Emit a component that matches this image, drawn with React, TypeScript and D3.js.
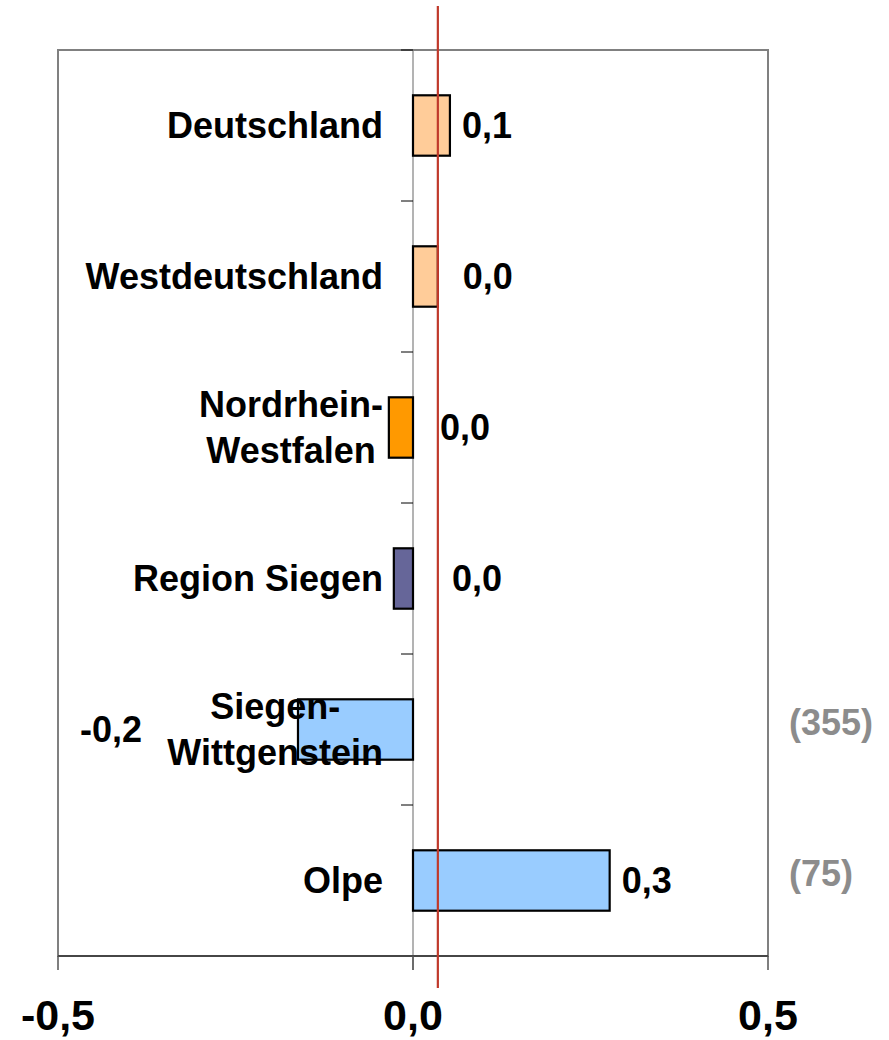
import { useEffect, useRef } from "react"
import * as d3 from "d3"

const categories = ["Deutschland", "Westdeutschland", "Nordrhein-Westfalen", "Region Siegen", "Siegen-Wittgenstein", "Olpe"]
const categoryLines = [["Deutschland"], ["Westdeutschland"], ["Nordrhein-", "Westfalen"], ["Region Siegen"], ["Siegen-", "Wittgenstein"], ["Olpe"]]
const values = [0.052, 0.035, -0.034, -0.027, -0.162, 0.277]
const valueLabels = ["0,1", "0,0", "0,0", "0,0", "-0,2", "0,3"]
const barColors = ["#ffcc99", "#ffcc99", "#ff9900", "#666699", "#99ccff", "#99ccff"]
const counts = ["", "", "", "", "(355)", "(75)"]
const xTicks = [-0.5, 0, 0.5]
const xTickLabels = ["-0,5", "0,0", "0,5"]
const referenceValue = 0.035

// label nudges in px (Excel placed them a bit unevenly)
const labelDx = [12, 25, 27, 39, -156, 12]

const FONT = "'Liberation Sans', Arial, sans-serif"

export default function App() {
  const svgRef = useRef<SVGSVGElement>(null)
  const width = 889
  const height = 1040

  useEffect(() => {
    if (!svgRef.current) return
    const svg = d3.select(svgRef.current)
    svg.selectAll("*").remove()

    const left = 58
    const right = 768
    const top = 50
    const bottom = 956

    const x = d3.scaleLinear().domain([-0.5, 0.5]).range([left, right])
    const y = d3.scaleBand().domain(categories).range([top, bottom]).paddingInner(0.6).paddingOuter(0.3)
    const step = y.step()
    const x0 = x(0)

    // frame
    svg
      .append("rect")
      .attr("x", left)
      .attr("y", top)
      .attr("width", right - left)
      .attr("height", bottom - top)
      .attr("fill", "none")
      .attr("stroke", "#808080")
      .attr("stroke-width", 2)

    // zero axis
    svg.append("line").attr("x1", x0).attr("x2", x0).attr("y1", top).attr("y2", bottom + 14).attr("stroke", "#808080").attr("stroke-width", 1.2)

    // category ticks
    svg
      .selectAll("line.ctick")
      .data(d3.range(categories.length))
      .enter()
      .append("line")
      .attr("x1", x0 - 12)
      .attr("x2", x0)
      .attr("y1", (i) => top + i * step)
      .attr("y2", (i) => top + i * step)
      .attr("stroke", "#000")
      .attr("stroke-width", 1)

    // bottom axis
    svg.append("line").attr("x1", left).attr("x2", right).attr("y1", bottom).attr("y2", bottom).attr("stroke", "#333").attr("stroke-width", 1.5)
    svg
      .selectAll("line.xtick")
      .data(xTicks)
      .enter()
      .append("line")
      .attr("x1", (d) => x(d))
      .attr("x2", (d) => x(d))
      .attr("y1", bottom)
      .attr("y2", bottom + 14)
      .attr("stroke", "#555")
      .attr("stroke-width", 1.5)
    svg
      .selectAll("text.xlabel")
      .data(xTicks)
      .enter()
      .append("text")
      .attr("x", (d) => x(d))
      .attr("y", 1030)
      .attr("text-anchor", "middle")
      .attr("font-family", FONT)
      .attr("font-weight", "bold")
      .attr("font-size", 43)
      .text((d, i) => xTickLabels[i])

    // bars
    svg
      .selectAll("rect.bar")
      .data(values)
      .enter()
      .append("rect")
      .attr("x", (d) => x(Math.min(0, d)))
      .attr("y", (d, i) => y(categories[i])!)
      .attr("width", (d) => Math.abs(x(d) - x0))
      .attr("height", y.bandwidth())
      .attr("fill", (d, i) => barColors[i])
      .attr("stroke", "#000")
      .attr("stroke-width", 2.2)

    // category labels (multi-line blocks centred, block right-aligned)
    categoryLines.forEach((lines, i) => {
      const cy = y(categories[i])! + y.bandwidth() / 2
      const g = svg.append("g")
      const texts = lines.map((line, j) =>
        g
          .append("text")
          .attr("y", lines.length === 1 ? cy + 12 : cy - 11 + j * 46)
          .attr("font-family", FONT)
          .attr("font-weight", "bold")
          .attr("font-size", 36)
          .text(line),
      )
      if (lines.length === 1) {
        texts[0].attr("x", 383).attr("text-anchor", "end")
      } else {
        const maxW = d3.max(texts, (t) => (t.node() as SVGTextElement).getComputedTextLength())!
        texts.forEach((t) => t.attr("x", 383 - maxW / 2).attr("text-anchor", "middle"))
      }
    })

    // value labels
    svg
      .selectAll("text.value")
      .data(values)
      .enter()
      .append("text")
      .attr("x", (d, i) => (d < -0.1 ? x(d) + labelDx[i] : x(Math.max(0, d)) + labelDx[i]))
      .attr("y", (d, i) => y(categories[i])! + y.bandwidth() / 2 + 12)
      .attr("text-anchor", (d) => (d < -0.1 ? "end" : "start"))
      .attr("font-family", FONT)
      .attr("font-weight", "bold")
      .attr("font-size", 36)
      .text((d, i) => valueLabels[i])

    // case counts on the right
    svg
      .selectAll("text.count")
      .data(counts)
      .enter()
      .append("text")
      .attr("x", 789)
      .attr("y", (d, i) => y(categories[i])! + y.bandwidth() / 2 + 5)
      .attr("font-family", FONT)
      .attr("font-weight", "bold")
      .attr("font-size", 36)
      .attr("fill", "#8c8c8c")
      .text((d) => d)

    // reference line
    svg
      .append("line")
      .attr("x1", x(referenceValue))
      .attr("x2", x(referenceValue))
      .attr("y1", 6)
      .attr("y2", 988)
      .attr("stroke", "#c0392b")
      .attr("stroke-width", 2.2)
  }, [])

  return (
    <svg
      ref={svgRef}
      width={width}
      height={height}
      style={{ position: "absolute", left: 0, top: 0, background: "#fff" }}
    />
  )
}
